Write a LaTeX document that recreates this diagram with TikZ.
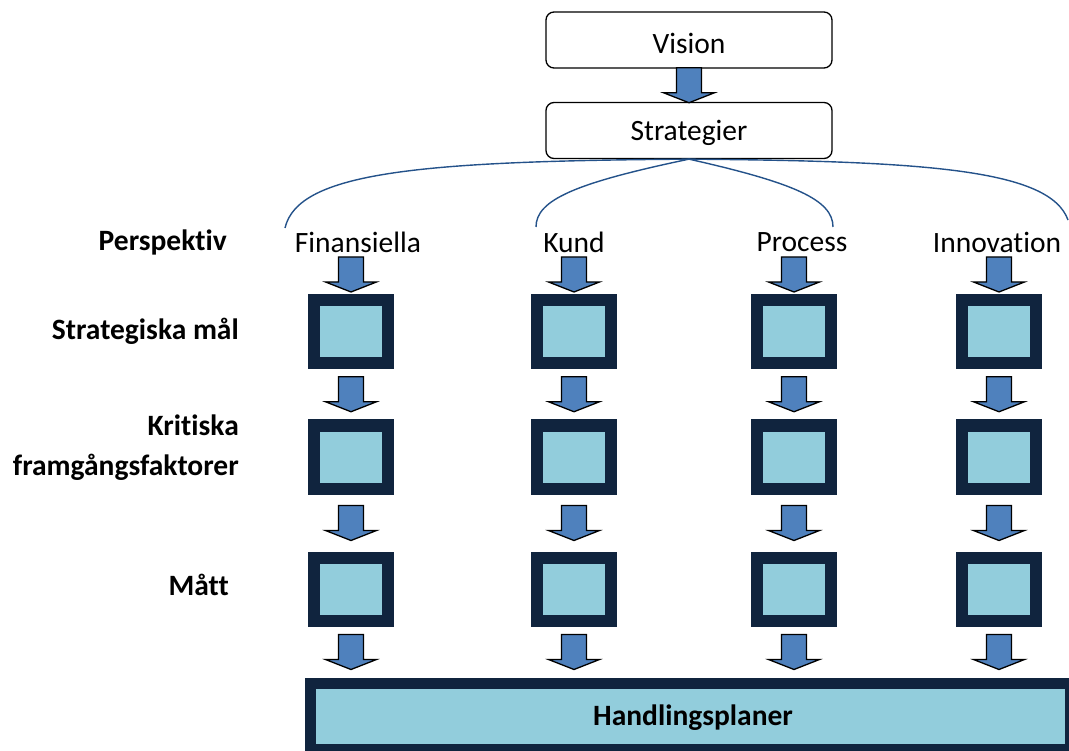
\documentclass[tikz,border=0pt]{standalone}
\usepackage{fontspec}
\setmainfont{Carlito}[Ligatures=NoCommon]
\usetikzlibrary{calc}
\definecolor{navy}{HTML}{10243E}
\definecolor{aqua}{HTML}{92CDDC}
\definecolor{arrowblue}{HTML}{4F81BD}
\definecolor{curveblue}{HTML}{24528A}
\tikzset{
  roundbox/.style={draw=black, line width=1.3pt, rounded corners=8pt, fill=white,
    minimum width=286pt, minimum height=56pt, inner sep=0pt},
  boxtext/.style={font=\fontsize{29.5}{34}\selectfont, inner sep=0pt},
  mbox/.style={draw=navy, fill=aqua, line width=12pt, minimum width=74pt, minimum height=63pt, inner sep=0pt},
  barrow/.style={draw=black, fill=arrowblue, line width=1.3pt, line join=miter},
  brace/.style={draw=curveblue, line width=1.4pt},
  persp/.style={font=\fontsize{29.5}{34}\selectfont, inner sep=0pt},
  rowlabel/.style={font=\bfseries\fontsize{29.5}{34}\selectfont, inner sep=0pt, anchor=east, align=right},
}
\newcommand\blockarr[1]{\draw[barrow] #1 ++(-12.5,-17.5) -- ++(0,25) -- ++(-13,0) -- ++(25.5,10) -- ++(25.5,-10) -- ++(-13,0) -- ++(0,-25) -- cycle;}
\begin{document}
\begin{tikzpicture}[x=1pt,y=-1pt]
\useasboundingbox (0,0) rectangle (1069,751);
% top boxes
\node[roundbox] (vision) at (689,40) {};
\node[boxtext] (visiont) at (689,43) {Vision};
\node[roundbox] (strat) at (689,130.5) {};
\node[boxtext] (stratt) at (689,133) {Strategier};
\blockarr{($(vision.south)!0.5!(strat.north)$)}
% braces
\coordinate (c1) at (285,228);
\coordinate (c2) at (536,227);
\coordinate (c3) at (833,227);
\coordinate (c4) at (1068,220);
\draw[brace] (strat.south) .. controls (420,161) and (298,172) .. (c1);
\draw[brace] (strat.south) .. controls (575,183) and (536,200) .. (c2);
\draw[brace] (strat.south) .. controls (795,183) and (833,200) .. (c3);
\draw[brace] (strat.south) .. controls (930,161) and (1050,170) .. (c4);
% perspective labels
\node[persp] (pf) at (358,242) {Finansiella};
\node[persp] (pk) at (574,242) {Kund};
\node[persp] (pp) at (802,242) {Process};
\node[persp] (pi) at (997,242) {Innovation};
% row labels
\node[rowlabel] (lp) at (227,242) {Perspektiv};
\node[rowlabel] (ls) at (239,331) {Strategiska mål};
\node[rowlabel] (lk1) at (239,425) {Kritiska};
\node[rowlabel] (lk2) at (239,467) {framgångsfaktorer};
\node[rowlabel] (lm) at (229,585) {Mått};
% boxes
\foreach \n/\x in {f/351,k/574,p/794,i/999}{
  \node[mbox] (\n1) at (\x,331.5) {};
  \node[mbox] (\n2) at (\x,457) {};
  \node[mbox] (\n3) at (\x,589) {};
}
% bottom bar
\node[draw=navy, fill=aqua, line width=11pt, minimum width=760pt, minimum height=66pt, inner sep=0pt,
  anchor=north west] (hp) at (305,678) {};
\node[font=\bfseries\fontsize{29.5}{34}\selectfont, inner sep=0pt] (hpt) at (693,718) {Handlingsplaner};
% block arrows
\foreach \n in {f,k,p,i}{
  \blockarr{($(\n1.north)+(0,-19.5)$)}
  \blockarr{($(\n1.south)!0.5!(\n2.north)$)}
  \blockarr{($(\n2.south)!0.5!(\n3.north)$)}
  \blockarr{($(\n3.south)+(0,25.5)$)}
}
\end{tikzpicture}
\end{document}
